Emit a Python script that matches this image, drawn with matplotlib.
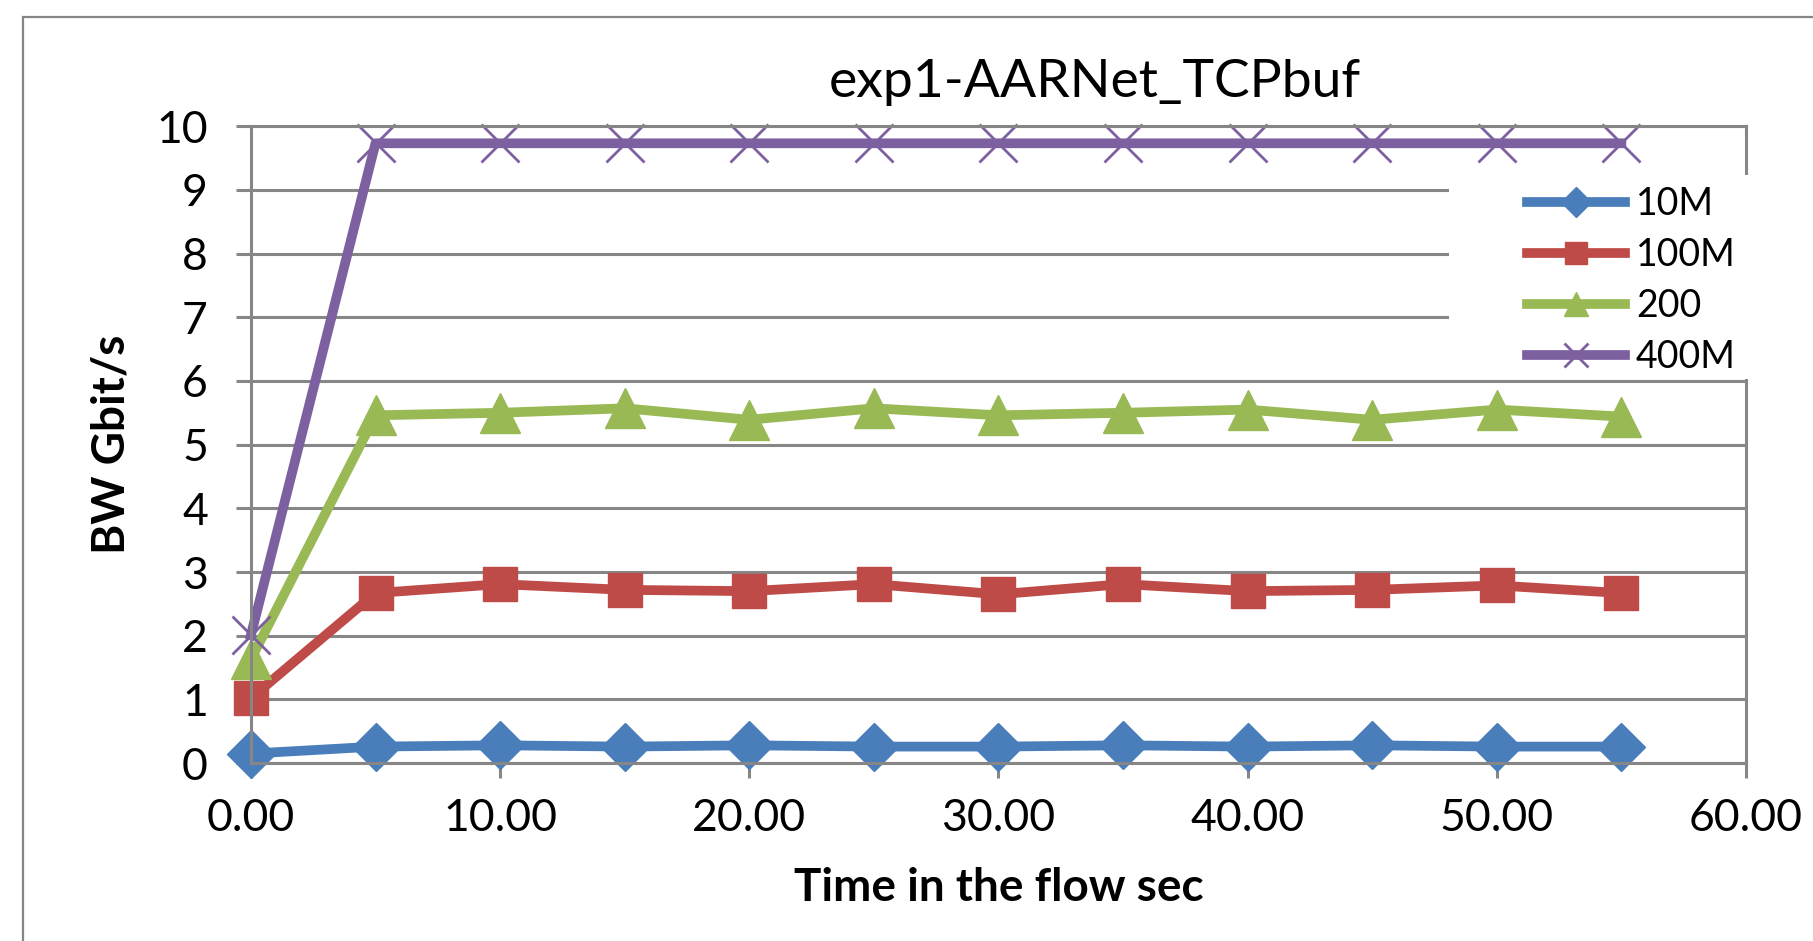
import matplotlib.pyplot as plt
from matplotlib.patches import Rectangle
from matplotlib.ticker import FormatStrFormatter

plt.rcParams['font.family'] = ['Lato', 'DejaVu Sans']

t = [0, 5, 10, 15, 20, 25, 30, 35, 40, 45, 50, 55]
bw_10m = [0.15, 0.26, 0.28, 0.26, 0.28, 0.26, 0.26, 0.28, 0.26, 0.28, 0.26, 0.26]
bw_100m = [1.02, 2.67, 2.81, 2.72, 2.70, 2.81, 2.65, 2.81, 2.70, 2.72, 2.79, 2.67]
bw_200 = [1.63, 5.46, 5.50, 5.57, 5.39, 5.57, 5.46, 5.50, 5.55, 5.39, 5.55, 5.44]
bw_400m = [2.01, 9.73, 9.73, 9.73, 9.73, 9.73, 9.73, 9.73, 9.73, 9.73, 9.73, 9.73]
labels = ['10M', '100M', '200', '400M']

grey = '#868686'

fig = plt.figure(figsize=(18.13, 9.41), dpi=100)
ax = fig.add_axes([0.1384, 0.189, 0.963 - 0.1384, 0.866 - 0.189])

# outer chart frame
fig.patches.append(Rectangle((0.0127, -0.2), 1.2, 1.182, transform=fig.transFigure,
                             fill=False, edgecolor=grey, linewidth=1.6))

ax.plot(t, bw_10m, color='#4A7EBB', lw=7, marker='D', ms=24, label=labels[0], clip_on=False)
ax.plot(t, bw_100m, color='#BE4B48', lw=7, marker='s', ms=25, label=labels[1], clip_on=False)
ax.plot(t, bw_200, color='#98B954', lw=7, marker='^', ms=29, label=labels[2], clip_on=False)
ax.plot(t, bw_400m, color='#7D60A0', lw=7, marker='x', ms=27, mew=2, label=labels[3], clip_on=False)

ax.set_xlim(0, 60)
ax.set_ylim(0, 10)
ax.set_xticks(range(0, 61, 10))
ax.set_yticks(range(0, 11))
ax.xaxis.set_major_formatter(FormatStrFormatter('%.2f'))
ax.grid(axis='y', color=grey, lw=2.2)
ax.set_axisbelow(True)
for s in ax.spines.values():
    s.set_color(grey)
    s.set_linewidth(2.2)
ax.tick_params(length=11, width=2.2, color=grey, labelsize=32, pad=14)
ax.tick_params(axis='y', pad=20)

ax.set_xlabel('Time in the flow sec', fontsize=33, fontweight='bold', labelpad=20)
ax.set_ylabel('BW Gbit/s', fontsize=33, fontweight='bold', labelpad=17)
fig.text(0.604, 0.912, 'exp1-AARNet_TCPbuf', fontsize=38.5, ha='center', va='center')

# white box behind the legend, covering grid and right border
ax.add_patch(Rectangle((0.799, 0.597), 0.2, 0.217, transform=fig.transFigure,
                       facecolor='white', edgecolor='none', zorder=2.6, clip_on=False))
leg = ax.legend(loc='upper left', bbox_to_anchor=(0.832, 0.822), bbox_transform=fig.transFigure,
                frameon=False, fontsize=27, handlelength=2.6, labelspacing=0.4,
                handletextpad=0.3, markerscale=0.62, borderpad=0)
leg.set_zorder(5)

plt.savefig('out.png', format='png')
